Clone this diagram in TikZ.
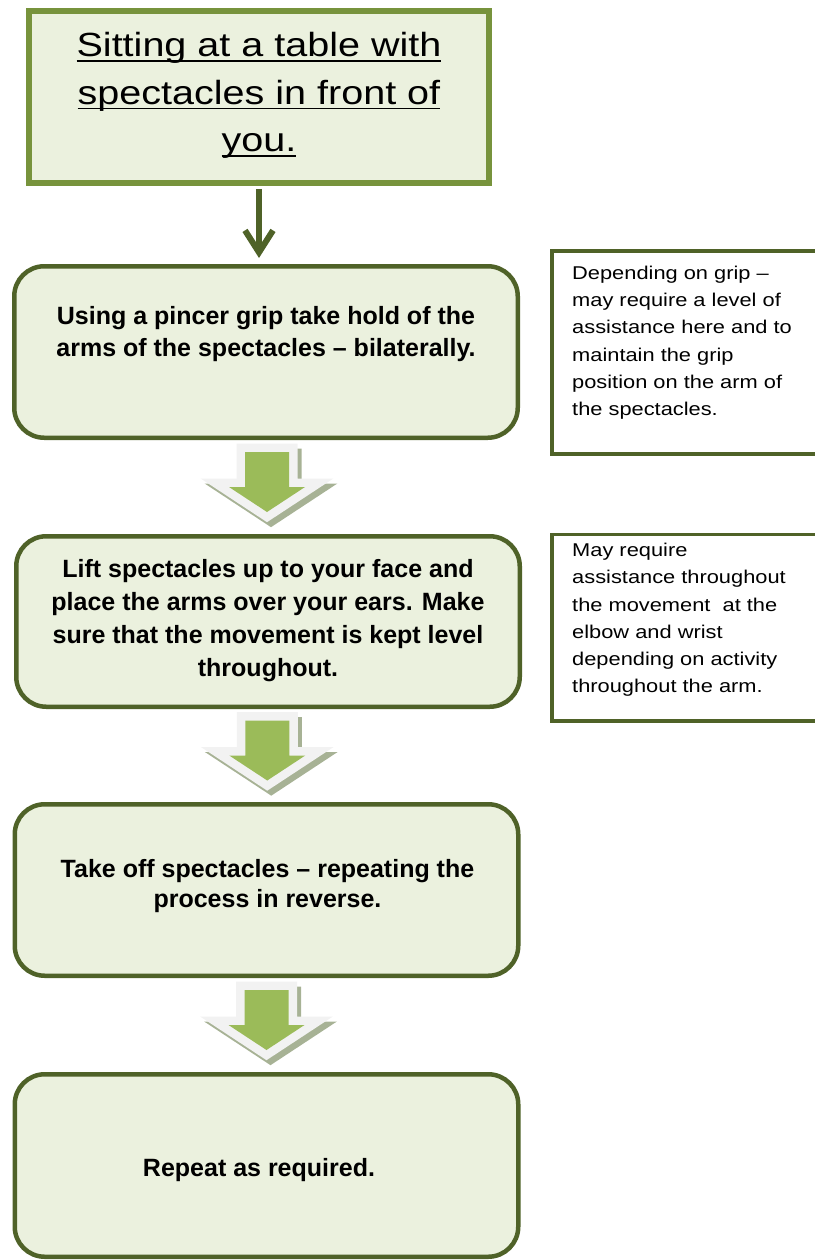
\documentclass[tikz,border=0pt]{standalone}
\usepackage{fontspec}
\setmainfont{Liberation Sans}[FakeStretch=1.18]
\newfontfamily\stepfont{Liberation Sans}[Ligatures=TeX]
\usetikzlibrary{arrows.meta,calc}
\definecolor{paleolive}{HTML}{EBF1DE}
\definecolor{titleolive}{HTML}{77933C}
\definecolor{darkolive}{HTML}{4F6228}
\definecolor{leafgreen}{HTML}{9BBB59}
\definecolor{rimgrey}{HTML}{F2F2F2}
\definecolor{shadegrey}{HTML}{A7B295}
% underline that sits just below the baseline
\newcommand\ulx[1]{\setbox0\hbox{#1}\rlap{\rule[-4.8pt]{\wd0}{1.6pt}}\box0}

\begin{document}
\begin{tikzpicture}[x=1pt,y=-1pt,
  titlebox/.style={draw=titleolive,line width=6pt,fill=paleolive,inner sep=0pt},
  stepbox/.style={draw=darkolive,line width=4.5pt,fill=paleolive,rounded corners=30pt,inner sep=0pt,minimum width=503.5pt},
  notebox/.style={draw=darkolive,line width=3.5pt,fill=white,inner sep=0pt,minimum width=278pt},
  titletext/.style={font=\fontsize{33.5}{47.5}\selectfont,align=center,inner sep=0pt},
  steptext/.style={font=\stepfont\bfseries\fontsize{25}{#1}\selectfont,align=center,inner sep=0pt},
  steptext/.default=30,
  notetext/.style={font=\fontsize{18.5}{27.3}\selectfont,align=left,inner sep=0pt,anchor=north west},
  flow/.style={draw=darkolive,line width=6pt,-{Straight Barb[length=22pt,width=28pt]}},
  pics/fatarrow/.style={code={
    \path[fill=shadegrey,draw=shadegrey,line width=17pt,line join=miter,shift={(4,5)}]
      (-22,-35) -- (22,-35) -- (22,0) -- (38,0) -- (0,25) -- (-38,0) -- (-22,0) -- cycle;
    \path[fill=rimgrey,draw=rimgrey,line width=17pt,line join=miter]
      (-22,-35) -- (22,-35) -- (22,0) -- (38,0) -- (0,25) -- (-38,0) -- (-22,0) -- cycle;
    \path[fill=leafgreen]
      (-22,-35) -- (22,-35) -- (22,0) -- (38,0) -- (0,25) -- (-38,0) -- (-22,0) -- cycle;
  }},
]
\useasboundingbox (0,0) rectangle (814,1260);

% starting position
\node[titlebox,minimum width=460pt,minimum height=172pt] (title) at (259,97) {};
\node[titletext] (titlet) at (259,95.7)
  {\ulx{Sitting at a table with}\\\ulx{spectacles in front of}\\\ulx{you.}};

% steps
\node[stepbox,minimum height=171.5pt] (s1) at (266,352) {};
\node[steptext=32] (s1t) at (266,334)
  {Using a pincer grip take hold of the\\arms of the spectacles -- bilaterally.};

\node[stepbox,minimum height=170.5pt] (s2) at (268,621.5) {};
\node[steptext=33] (s2t) at (268,621)
  {Lift spectacles up to your face and\\place the arms over your ears. Make\\sure that the movement is kept level\\throughout.};

\node[stepbox,minimum height=171.5pt] (s3) at (266.5,890) {};
\node[steptext=30] (s3t) at (267.5,886)
  {Take off spectacles -- repeating the\\process in reverse.};

\node[stepbox,minimum height=182.5pt] (s4) at (266.5,1165.5) {};
\node[steptext] (s4t) at (259,1170.5) {Repeat as required.};

% side notes
\node[notebox,minimum height=203pt] (n1) at (691,352.5) {};
\node[notetext] (n1t) at (572,265.5)
  {Depending on grip --\\may require a level of\\assistance here and to\\maintain the grip\\position on the arm of\\the spectacles.};

\node[notebox,minimum height=186.5pt] (n2) at (691,627.75) {};
\node[notetext] (n2t) at (572,542.8)
  {May require\\assistance throughout\\the movement\ \ at the\\elbow and wrist\\depending on activity\\throughout the arm.};

% connectors
\draw[flow,shorten <=3pt,shorten >=6pt] (title.south) -- (title.south |- s1.north);
\pic at ($(s1.south)!0.5!(s2.north)$) {fatarrow};
\pic at ($(s2.south)!0.5!(s3.north)$) {fatarrow};
\pic at ($(s3.south)!0.5!(s4.north)$) {fatarrow};
\end{tikzpicture}
\end{document}
